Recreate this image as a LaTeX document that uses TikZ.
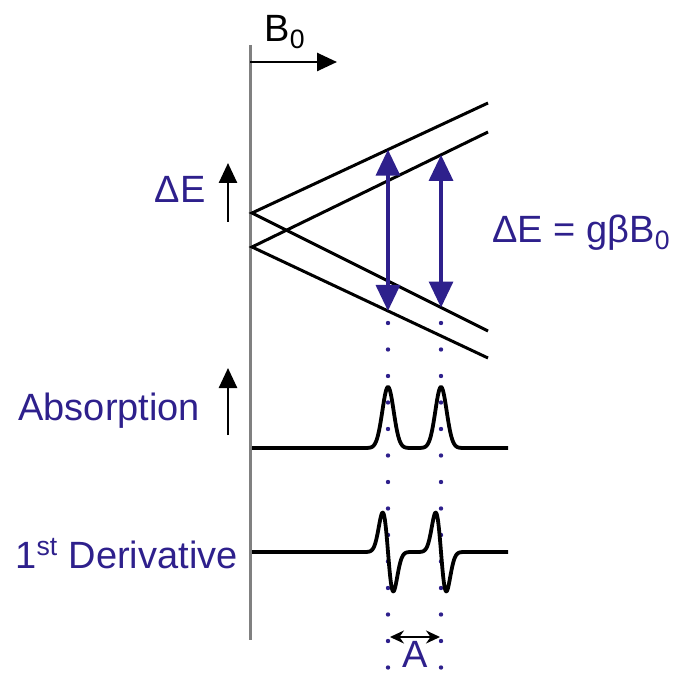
\documentclass[tikz,border=0pt]{standalone}
\usepackage{fontspec}
\setmainfont{Liberation Sans}
\usetikzlibrary{arrows.meta,calc}
\definecolor{esrblue}{RGB}{46,32,140}
\definecolor{axisgray}{RGB}{128,128,128}

\begin{document}
\begin{tikzpicture}[x=0.5pt,y=-0.5pt,
  lbl/.style={font=\fontsize{19}{22}\selectfont, text=esrblue, inner sep=0pt},
  level/.style={line width=1.5pt, black},
  trans/.style={line width=1.6pt, esrblue, {Triangle[length=13pt,width=12pt]}-{Triangle[length=13pt,width=12pt]}},
  uparrow/.style={line width=1.3pt, -{Triangle[length=10pt,width=9pt]}},
  guide/.style={esrblue, line width=2.2pt, line cap=round, dash pattern=on 0pt off 13.25pt},
  trace/.style={line width=1.9pt, line join=round}]
  \useasboundingbox (0,0) rectangle (674,673);

  % field axis
  \draw[axisgray, line width=1.5pt] (250,45) -- (250,640);
  \draw[uparrow] (250,62) -- (337,62);
  \node[font=\fontsize{19}{22}\selectfont, inner sep=0pt, anchor=base west] (bzero) at (264,42) {B\textsubscript{0}};

  % energy levels
  \coordinate (m1) at (252,213);
  \coordinate (m2) at (252,247);
  \coordinate (u1) at (488,103);
  \coordinate (u2) at (488,132);
  \coordinate (d1) at (488,331);
  \coordinate (d2) at (488,358);
  \draw[level] (u1) -- (m1) -- (d1);
  \draw[level] (u2) -- (m2) -- (d2);

  % transitions
  \coordinate (t1) at ($(m1)!0.576!(u1)$);
  \coordinate (b1) at ($(m2)!0.576!(d2)$);
  \coordinate (t2) at ($(m2)!0.801!(u2)$);
  \coordinate (b2) at ($(m1)!0.801!(d1)$);
  \draw[trans] (t1) -- (b1);
  \draw[trans] (t2) -- (b2);

  % guide dots
  \draw[guide] (388,323) -- (388,670);
  \draw[guide] (441,323) -- (441,670);

  % labels on the left
  \node[lbl, anchor=base east] (de) at (206,203) {ΔE};
  \draw[uparrow] (228,222) -- (228,163);
  \node[lbl, anchor=base west] (abs) at (18,420) {Absorption};
  \draw[uparrow] (228,435) -- (228,368);
  \node[lbl, anchor=base west] (der) at (15,568) {1\textsuperscript{st} Derivative};
  \node[lbl, anchor=base west] (res) at (492,243) {ΔE = gβB\textsubscript{0}};

  % absorption trace
  \draw[trace] (252,448) -- (366,448)
    -- plot[domain=366:410, samples=89] (\x,{448-61*exp(-((\x-388)/8)^2)})
    -- (419,448)
    -- plot[domain=419:463, samples=89] (\x,{448-61*exp(-((\x-441)/8)^2)})
    -- (508,448);

  % first derivative trace
  \draw[trace] (252,552) -- (367,552)
    -- plot[domain=367:409, samples=85] (\x,{552+92*((\x-388)/7.5)*exp(-((\x-388)/7.5)^2)})
    -- (420,552)
    -- plot[domain=420:462, samples=85] (\x,{552+92*((\x-441)/7.5)*exp(-((\x-441)/7.5)^2)})
    -- (508,552);

  % hyperfine splitting
  \coordinate (a1) at (390,637);
  \coordinate (a2) at (440,637);
  \draw[line width=1.1pt, {Stealth[length=7pt,width=6.5pt]}-{Stealth[length=7pt,width=6.5pt]}] (a1) -- (a2);
  \node[lbl, anchor=base] (hfa) at (415,667) {A};
\end{tikzpicture}
\end{document}
